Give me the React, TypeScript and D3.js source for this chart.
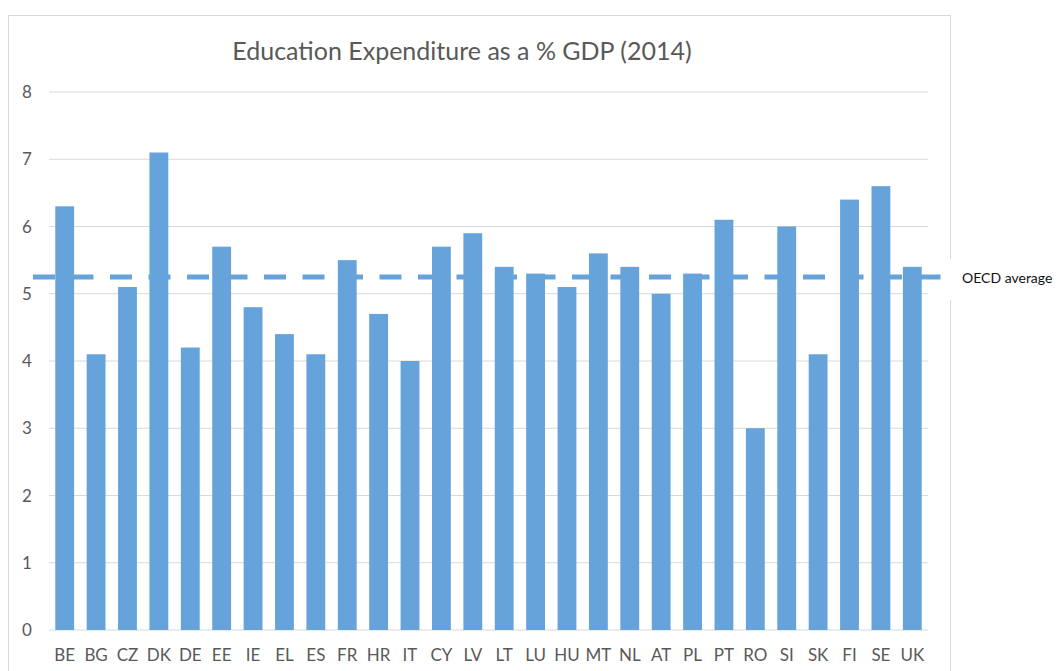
import { scaleBand, scaleLinear } from "d3";

const countries = [
  "BE", "BG", "CZ", "DK", "DE", "EE", "IE", "EL", "ES", "FR", "HR", "IT", "CY", "LV",
  "LT", "LU", "HU", "MT", "NL", "AT", "PL", "PT", "RO", "SI", "SK", "FI", "SE", "UK",
];

const expenditure = [
  6.3, 4.1, 5.1, 7.1, 4.2, 5.7, 4.8, 4.4, 4.1, 5.5, 4.7, 4.0, 5.7, 5.9,
  5.4, 5.3, 5.1, 5.6, 5.4, 5.0, 5.3, 6.1, 3.0, 6.0, 4.1, 6.4, 6.6, 5.4,
];

const yTicks = [0, 1, 2, 3, 4, 5, 6, 7, 8];
const oecdAverage = 5.25;

const BAR = "#65a3da";
const TEXT = "#595959";
const FONT = "Lato, 'Open Sans', sans-serif";

export default function App() {
  const width = 1058;
  const height = 671;
  const MARGIN = { left: 49, right: 130, top: 92, bottom: 41 };
  const plotRight = width - MARGIN.right;
  const plotBottom = height - MARGIN.bottom;

  const xScale = scaleBand()
    .domain(countries)
    .range([MARGIN.left, plotRight])
    .paddingInner(0.4)
    .paddingOuter(0.2);

  const yScale = scaleLinear().domain([0, 8]).range([plotBottom, MARGIN.top]);

  return (
    <div style={{ position: "absolute", left: 0, top: 0 }}>
      <svg width={width} height={height} style={{ display: "block" }}>
        <rect x={0} y={0} width={width} height={height} fill="#fff" />
        {/* chart border */}
        <rect x={8.5} y={15.5} width={942} height={700} fill="none" stroke="#d9d9d9" strokeWidth={1} />

        <text
          x={462}
          y={60}
          fontSize={25}
          fill={TEXT}
          textAnchor="middle"
          fontFamily={FONT}
        >
          Education Expenditure as a % GDP (2014)
        </text>

        {yTicks.map((t) => (
          <g key={t}>
            <line
              x1={MARGIN.left}
              x2={plotRight}
              y1={yScale(t)}
              y2={yScale(t)}
              stroke="#d9d9d9"
              strokeWidth={1}
            />
            <text
              x={27}
              y={yScale(t) + 6}
              fontSize={17}
              fill={TEXT}
              textAnchor="middle"
              fontFamily={FONT}
            >
              {t}
            </text>
          </g>
        ))}

        {/* OECD average dashed line */}
        <line
          x1={33}
          x2={945}
          y1={yScale(oecdAverage)}
          y2={yScale(oecdAverage)}
          stroke={BAR}
          strokeWidth={5}
          strokeDasharray="22 16.5"
        />

        {countries.map((c, i) => (
          <rect
            key={c}
            x={xScale(c)}
            y={yScale(expenditure[i])}
            width={xScale.bandwidth()}
            height={plotBottom - yScale(expenditure[i])}
            fill={BAR}
          />
        ))}

        {countries.map((c) => (
          <text
            key={c}
            x={(xScale(c) ?? 0) + xScale.bandwidth() / 2}
            y={661}
            fontSize={17}
            fill={TEXT}
            textAnchor="middle"
            fontFamily={FONT}
          >
            {c}
          </text>
        ))}

        <rect x={946} y={259} width={112} height={41} fill="#fff" />
        <text
          x={962}
          y={283}
          fontSize={14}
          fill="#111"
          fontFamily={FONT}
        >
          OECD average
        </text>
      </svg>
    </div>
  );
}
